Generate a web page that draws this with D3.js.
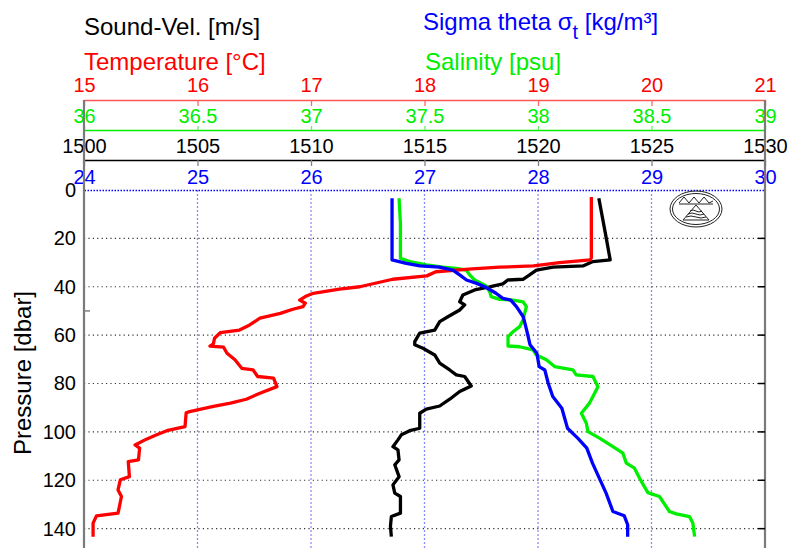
<!DOCTYPE html>
<html>
<head>
<meta charset="utf-8">
<script src="https://cdn.jsdelivr.net/npm/d3@7"></script>
<style>
  html, body { margin: 0; padding: 0; background: #fff; }
  svg { display: block; font-family: "Liberation Sans", Arial, sans-serif; }
</style>
</head>
<body>
<svg id="chart" width="789" height="548"></svg>
<script>
// ---------- Data (pressure [dbar], value) ----------
const tempProfile = [
  [2.9,19.47],[28.1,19.47],[28.9,19.46],[30.0,19.19],[31.4,18.96],[31.9,18.66],[32.6,18.42],
  [33.8,18.10],[35.5,18.02],[36.9,17.72],[40.0,17.43],[41.0,17.25],[42.7,17.02],[43.8,16.96],
  [45.5,16.90],[46.8,16.95],[48.2,16.93],[49.3,16.84],[51.0,16.73],[53.0,16.55],[55.8,16.46],
  [57.9,16.37],[59.0,16.20],[61.3,16.15],[63.6,16.14],[64.5,16.11],[65.0,16.23],[67.5,16.26],
  [70.2,16.33],[73.7,16.39],[74.4,16.49],[77.1,16.53],[77.8,16.67],[81.3,16.70],[84.0,16.55],
  [86.5,16.43],[88.1,16.29],[89.5,16.14],[91.6,15.93],[92.1,15.90],[97.8,15.89],[99.5,15.73],
  [101.2,15.64],[103.0,15.55],[105.4,15.45],[106.7,15.49],[111.6,15.48],[112.3,15.39],
  [118.5,15.40],[119.8,15.32],[124.0,15.30],[126.7,15.33],[133.6,15.30],[134.7,15.11],
  [137.7,15.08],[143.3,15.08]
];
const salinityProfile = [
  [3.4,37.388],[13.8,37.394],[28.2,37.394],[29.6,37.435],[31.0,37.508],[31.9,37.581],
  [32.4,37.640],[33.1,37.684],[35.1,37.699],[37.2,37.721],[39.7,37.772],[42.0,37.787],
  [44.1,37.794],[45.2,37.831],[45.5,37.890],[46.2,37.934],[48.2,37.949],[51.0,37.941],
  [53.7,37.934],[56.5,37.919],[58.6,37.890],[60.6,37.868],[64.5,37.868],[64.8,37.919],
  [66.1,37.978],[68.2,37.993],[70.2,38.037],[73.0,38.073],[74.4,38.154],[76.4,38.168],
  [77.1,38.242],[81.3,38.264],[85.4,38.242],[88.1,38.227],[92.3,38.191],[96.4,38.213],
  [99.9,38.220],[102.6,38.271],[106.1,38.330],[108.8,38.374],[112.9,38.389],[115.0,38.425],
  [119.1,38.447],[125.1,38.484],[126.7,38.535],[132.9,38.579],[133.9,38.609],[135.0,38.667],
  [137.7,38.682],[143.3,38.690]
];
const soundProfile = [
  [3.4,1522.68],[20.0,1523.01],[28.9,1523.18],[29.6,1522.42],[31.4,1521.98],[31.9,1520.66],
  [33.1,1519.93],[35.1,1519.63],[36.9,1519.34],[37.2,1518.67],[38.8,1518.45],[39.7,1518.01],
  [40.2,1517.80],[41.3,1517.21],[43.4,1516.69],[46.2,1516.55],[47.5,1516.77],[49.6,1516.55],
  [52.4,1516.03],[54.4,1515.67],[57.9,1515.45],[59.2,1514.79],[62.7,1514.57],[64.0,1514.57],
  [65.4,1514.93],[68.2,1515.45],[71.6,1515.67],[74.4,1516.11],[76.4,1516.40],[77.1,1516.77],
  [81.0,1517.06],[83.3,1516.55],[86.5,1516.11],[89.3,1515.67],[90.6,1515.08],[92.3,1514.79],
  [98.5,1514.79],[99.5,1514.35],[101.2,1513.98],[103.3,1513.83],[106.1,1513.61],[107.4,1513.83],
  [111.6,1513.88],[113.6,1513.69],[118.5,1513.88],[121.9,1513.61],[125.3,1513.69],
  [126.7,1513.94],[133.6,1513.94],[135.0,1513.54],[139.1,1513.50],[143.3,1513.54]
];
const sigmaProfile = [
  [3.4,26.714],[28.9,26.714],[30.3,26.84],[31.4,26.96],[31.9,27.13],[33.1,27.25],[35.1,27.31],
  [37.2,27.37],[38.6,27.46],[40.2,27.54],[42.7,27.63],[44.8,27.69],[45.5,27.76],[48.2,27.81],
  [52.4,27.87],[57.9,27.90],[64.0,27.93],[67.5,27.99],[73.0,28.01],[74.4,28.06],[79.9,28.09],
  [85.4,28.13],[90.2,28.21],[98.5,28.26],[102.6,28.35],[106.7,28.43],[112.9,28.48],
  [119.1,28.54],[125.3,28.60],[132.9,28.66],[134.7,28.76],[138.4,28.79],[143.3,28.79]
];

// ---------- Tick labels ----------
const tempTicks = [15,16,17,18,19,20,21];
const salTicks = [36,36.5,37,37.5,38,38.5,39];
const soundTicks = [1500,1505,1510,1515,1520,1525,1530];
const sigmaTicks = [24,25,26,27,28,29,30];
const pressureTicks = [0,20,40,60,80,100,120,140];

// ---------- Layout ----------
const svg = d3.select("#chart");
const L = 84, R = 765, T0 = 190, B = 548;
const y = d3.scaleLinear().domain([0,148]).range([T0, B]);
const xT = d3.scaleLinear().domain([15,21]).range([L,R]);
const xS = d3.scaleLinear().domain([36,39]).range([L,R]);
const xC = d3.scaleLinear().domain([1500,1530]).range([L,R]);
const xD = d3.scaleLinear().domain([24,30]).range([L,R]);

const RED = "#ff0000", GREEN = "#00ee00", BLUE = "#0000ff";
const FS = 20;

// gridlines
svg.append("g").selectAll("line").data(sigmaTicks.slice(1,-1)).join("line")
  .attr("x1", d => xD(d)).attr("x2", d => xD(d)).attr("y1", T0).attr("y2", B)
  .attr("stroke", "#8c8cff").attr("stroke-width", 1.3).attr("stroke-dasharray", "2,2");
svg.append("g").selectAll("line").data(pressureTicks.slice(1)).join("line")
  .attr("x1", L).attr("x2", R).attr("y1", d => y(d)).attr("y2", d => y(d))
  .attr("stroke", "#333").attr("stroke-width", 1.1).attr("stroke-dasharray", "1.2,3.2");

function styleAxis(g, color, tickColor) {
  g.select(".domain").attr("stroke", color).attr("stroke-width", 1.3);
  g.selectAll(".tick line").attr("stroke", tickColor).attr("stroke-width", 1.3);
  g.selectAll(".tick text").attr("fill", color).attr("font-size", FS)
    .attr("font-family", "Liberation Sans, Arial, sans-serif");
}

// temperature axis
const gT = svg.append("g").attr("transform", "translate(0,100)")
  .call(d3.axisTop(xT).tickValues(tempTicks).tickFormat(d3.format("d"))
    .tickSizeInner(-6).tickSizeOuter(0).tickPadding(8));
styleAxis(gT, RED, "#ff6666");
gT.select(".domain").attr("stroke", "#ff5555");

// salinity axis
const gS = svg.append("g").attr("transform", "translate(0,130)")
  .call(d3.axisTop(xS).tickValues(salTicks).tickFormat(d => String(d))
    .tickSizeInner(4).tickSizeOuter(0).tickPadding(3));
styleAxis(gS, GREEN, "#66ee66");

// sound velocity axis
const gC = svg.append("g").attr("transform", "translate(0,160)")
  .call(d3.axisTop(xC).tickValues(soundTicks).tickFormat(d3.format("d"))
    .tickSizeInner(-6).tickSizeOuter(0).tickPadding(7));
styleAxis(gC, "#000", "#808080");

// sigma axis
const gD = svg.append("g").attr("transform", "translate(0,190)")
  .call(d3.axisTop(xD).tickValues(sigmaTicks).tickFormat(d3.format("d"))
    .tickSizeInner(0).tickSizeOuter(0).tickPadding(6));
styleAxis(gD, BLUE, BLUE);
gD.select(".domain").attr("stroke-dasharray", "1.5,1.5").attr("stroke-width", 1.6);

// frame verticals (drawn over axis lines)
svg.append("line").attr("x1", L).attr("x2", L).attr("y1", 100).attr("y2", B)
  .attr("stroke", "#7a7a7a").attr("stroke-width", 2.2);
svg.append("line").attr("x1", R).attr("x2", R).attr("y1", 100).attr("y2", B)
  .attr("stroke", "#7a7a7a").attr("stroke-width", 2.2);

// pressure axis
const gP = svg.append("g").attr("transform", `translate(${L},0)`)
  .call(d3.axisLeft(y).tickValues(pressureTicks).tickSize(0).tickPadding(8));
gP.select(".domain").remove();
gP.selectAll(".tick text").attr("fill", "#000").attr("font-size", FS)
  .attr("font-family", "Liberation Sans, Arial, sans-serif");
// minor tick at 50 on left, inward ticks on right
svg.append("line").attr("x1", L).attr("x2", L + 6).attr("y1", y(50)).attr("y2", y(50))
  .attr("stroke", "#808080").attr("stroke-width", 1.5);
svg.append("g").selectAll("line").data(pressureTicks.slice(1)).join("line")
  .attr("x1", R - 7).attr("x2", R).attr("y1", d => y(d)).attr("y2", d => y(d))
  .attr("stroke", "#000").attr("stroke-width", 1.5);

// titles
const title = (x, yy, txt, color) => svg.append("text").attr("x", x).attr("y", yy)
  .attr("font-size", 24).attr("fill", color).text(txt);
title(L, 35, "Sound-Vel. [m/s]", "#000");
title(L, 70, "Temperature [°C]", RED);
title(425, 70, "Salinity [psu]", GREEN);
const sig = svg.append("text").attr("x", 423).attr("y", 30).attr("font-size", 24).attr("fill", BLUE);
sig.append("tspan").text("Sigma theta σ");
sig.append("tspan").attr("dy", 9).attr("font-size", 20).text("t");
sig.append("tspan").attr("dy", -9).text(" [kg/m³]");

svg.append("text").attr("transform", `translate(31,${373}) rotate(-90)`)
  .attr("text-anchor", "middle").attr("font-size", 24).attr("fill", "#000")
  .text("Pressure [dbar]");

// data lines
const lineOf = xs => d3.line().x(d => xs(d[1])).y(d => y(d[0]));
const drawLine = (data, xs, color) => svg.append("path").datum(data)
  .attr("d", lineOf(xs)).attr("fill", "none").attr("stroke", color)
  .attr("stroke-width", 3.3).attr("stroke-linejoin", "round").attr("stroke-linecap", "butt");
drawLine(soundProfile, xC, "#000");
drawLine(salinityProfile, xS, "#00ee00");
drawLine(tempProfile, xT, RED);
drawLine(sigmaProfile, xD, BLUE);

// logo
const logo = svg.append("g").attr("transform", "translate(696,209)")
  .attr("fill", "none").attr("stroke", "#222").attr("stroke-width", 1);
logo.append("ellipse").attr("rx", 26).attr("ry", 18);
logo.append("ellipse").attr("rx", 23.5).attr("ry", 15.5);
logo.append("path").attr("d", "M-17,-6 L-12,-12 L-7,-6 L-2,-12 L3,-6 L8,-12 L13,-6 L17,-8");
logo.append("path").attr("d", "M-17,-5 L17,-5");
logo.append("path").attr("d", "M0,-4 L-13,11 L13,11 Z");
logo.append("path").attr("d", "M-6,2 q3,-2 6,0 t6,0 M-8,5 q4,-2 8,0 t8,0 M-10,8 q5,-2 10,0 t10,0");
</script>
</body>
</html>
